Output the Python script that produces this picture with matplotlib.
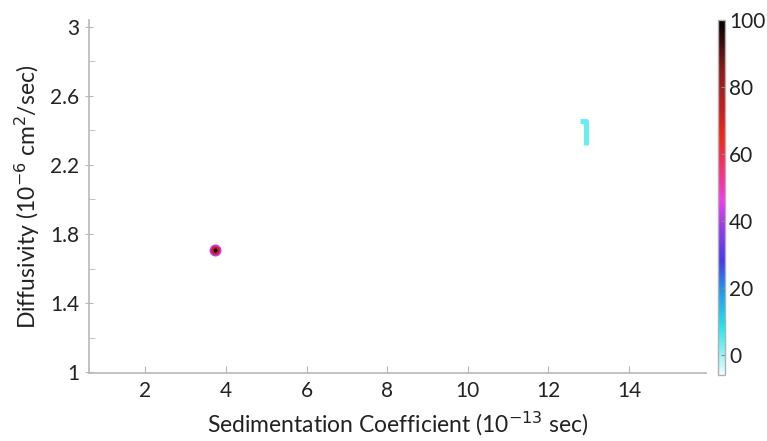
import matplotlib
matplotlib.use("Agg")
import matplotlib.pyplot as plt
import numpy as np
from matplotlib.colors import LinearSegmentedColormap, Normalize
from matplotlib.path import Path

plt.rcParams['font.family'] = ['Lato', 'DejaVu Sans']

# data
sed = [3.72]
diff = [1.71]
vals = [72]
sed_glyph = [12.93]
diff_glyph = [2.39]
vals_glyph = [8]

x_ticks = [2, 4, 6, 8, 10, 12, 14]
y_ticks = [1, 1.4, 1.8, 2.2, 2.6, 3]
y_tick_labels = ["1", "1.4", "1.8", "2.2", "2.6", "3"]
cb_ticks = [0, 20, 40, 60, 80, 100]

vmin, vmax = -6, 100
stops = [(-6, "#eefcfc"), (8, "#22e6ee"), (20, "#1e90ee"), (28, "#4a3aea"),
         (38, "#9a3ae8"), (46, "#f03cf0"), (55, "#f8307a"), (65, "#f42818"),
         (72, "#cc2020"), (85, "#8c1c1c"), (100, "#000000")]
cmap = LinearSegmentedColormap.from_list(
    "custom", [((v - vmin) / (vmax - vmin), c) for v, c in stops])
norm = Normalize(vmin=vmin, vmax=vmax)

one_marker = Path([(-0.22, 0.45), (0.0, 0.45), (0.0, -0.5)],
                  [Path.MOVETO, Path.LINETO, Path.LINETO])

fig = plt.figure(figsize=(7.67, 4.41), dpi=100)
ax = fig.add_axes([0.116, 0.154, 0.804, 0.801])

ax.scatter(sed, diff, c=vals, cmap=cmap, norm=norm, s=55,
           edgecolors=[cmap(norm(42))], linewidths=1.2, zorder=3)
ax.scatter(sed, diff, c=[100], cmap=cmap, norm=norm, s=8, linewidths=0, zorder=4)
ax.scatter(sed_glyph, diff_glyph, marker=one_marker, s=320,
           facecolors='none', edgecolors=[cmap(norm(v)) for v in vals_glyph],
           linewidths=3.6, alpha=0.7, zorder=3)

ax.set_xlim(0.6, 15.9)
ax.set_ylim(0.995, 3.04)
ax.set_xticks(x_ticks)
ax.set_yticks(y_ticks)
ax.set_yticklabels(y_tick_labels)
ax.set_yticks(np.arange(1.2, 3.0, 0.4), minor=True)

for s in ['top', 'right']:
    ax.spines[s].set_visible(False)
for s in ['left', 'bottom']:
    ax.spines[s].set_color('#b8b8b8')
    ax.spines[s].set_linewidth(1.2)

ax.tick_params(axis='x', direction='in', length=5, color='#b8b8b8',
               labelsize=15, labelcolor='#222222', pad=6)
ax.tick_params(axis='y', which='major', direction='inout', length=6,
               color='#b8b8b8', labelsize=15, labelcolor='#222222', pad=4)
ax.tick_params(axis='y', which='minor', direction='in', length=4,
               color='#b8b8b8')

ax.set_xlabel("Sedimentation Coefficient (10$^{-13}$ sec)", fontsize=16.5,
              color='#222222', labelpad=6)
ax.set_ylabel("Diffusivity (10$^{-6}$ cm$^{2}$/sec)", fontsize=16.5,
              color='#222222', labelpad=6)

cax = fig.add_axes([0.936, 0.150, 0.009, 0.805])
sm = plt.cm.ScalarMappable(norm=norm, cmap=cmap)
cb = fig.colorbar(sm, cax=cax, ticks=cb_ticks)
cb.outline.set_edgecolor('#b0b0b0')
cb.outline.set_linewidth(1.0)
cax.tick_params(labelsize=15, labelcolor='#222222', direction='in',
                length=3, color='#888888', pad=3)

fig.savefig("out.png", dpi=100, facecolor='white')
